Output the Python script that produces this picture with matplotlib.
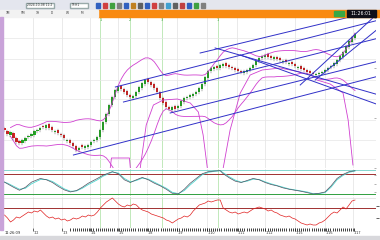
import matplotlib.pyplot as plt
import matplotlib.patches as mpatches
import numpy as np
import pandas as pd

W, H = 380, 240

# bar opens / closes (index 0..117)
opens = [40, 37, 33, 35, 30, 27, 25, 27, 31, 32, 33, 37, 38, 42, 40, 44, 41, 36, 38, 34,
         33, 27, 28, 25, 22, 18, 23, 20, 21, 23, 27, 28, 31, 38, 46, 54, 63, 71, 77, 82,
         79, 77, 73, 70, 72, 76, 80, 84, 89, 86, 84, 80, 76, 70, 66, 61, 58, 62, 60, 62,
         66, 70, 71, 72, 74, 76, 79, 84, 90, 97, 99, 102, 100, 102, 105, 103, 101, 100, 99, 97,
         95, 96, 98, 100, 103, 107, 110, 111, 114, 112, 109, 111, 110, 106, 108, 104, 106, 104, 100, 102,
         100, 98, 97, 95, 93, 94, 95, 96, 98, 101, 102, 104, 108, 111, 115, 121, 126, 130]
closes = [38, 34, 36, 30, 26, 25, 28, 30, 32, 34, 37, 38, 40, 41, 43, 40, 38, 37, 35, 33,
          30, 28, 25, 22, 18, 20, 21, 22, 23, 26, 28, 31, 38, 46, 54, 63, 71, 78, 81, 79,
          76, 73, 71, 72, 76, 81, 85, 88, 86, 83, 80, 76, 70, 65, 61, 59, 61, 59, 62, 67,
          70, 71, 73, 74, 76, 80, 84, 91, 97, 100, 101, 100, 103, 104, 102, 101, 100, 98, 97, 96,
          97, 98, 100, 103, 107, 110, 112, 113, 111, 110, 111, 109, 108, 107, 106, 105, 104, 102, 101, 99,
          98, 96, 95, 94, 94, 95, 96, 98, 100, 102, 105, 108, 112, 116, 122, 127, 131, 134]

# hand drawn cycle envelopes (bar index, price)
env_a_x = [45.3, 47.3, 49.7, 53.0, 57.7, 62.0, 64.7, 66.3, 67.7]
env_a_y = [0, 43, 63, 68, 69, 65, 56, 33, 0]
env_b_x = [73.0, 75.3, 78.7, 82.0, 86.0, 92.0, 98.7]
env_b_y = [0, 38, 75, 93, 98, 100, 96]
env_c_x = [104.3, 108.7, 113.0, 114.7, 116.3]
env_c_y = [88, 84, 75, 48, 3]
env_d_x = [35.3, 35.7, 41.7, 42.0]
env_d_y = [0, 10, 10, 0]

# trend lines: (x0, y0, x1, y1) in bar index / price
trend_lines = [
    (23.0, 13, 125.0, 92),
    (55.3, 55, 125.0, 107),
    (37.0, 81, 125.0, 148),
    (39.7, 66, 125.0, 130),
    (65.3, 115, 125.0, 158),
    (70.3, 120, 125.0, 73),
    (78.7, 113, 125.0, 63),
    (98.7, 83, 124.0, 153),
    (103.7, 88, 125.0, 140),
]

# stochastic %K / %D
stoch_x = [-1, 1, 3, 5, 7, 9, 12, 14, 16, 18, 20, 22, 24, 26, 28, 31, 33, 35, 36, 38,
           40, 42, 44, 46, 48, 50, 52, 54, 56, 58, 60, 62, 64, 66, 68, 70, 72, 73, 75, 77,
           79, 81, 83, 85, 87, 89, 91, 93, 95, 97, 99, 101, 103, 105, 107, 109, 111, 113, 115, 117]
stoch_k = [60, 50, 40, 31, 40, 55, 66, 62, 54, 42, 32, 26, 30, 40, 52, 66, 76, 83, 86, 80,
           62, 54, 62, 69, 62, 52, 44, 34, 22, 20, 34, 52, 66, 80, 86, 88, 89, 80, 68, 58,
           54, 60, 66, 62, 54, 48, 44, 38, 34, 31, 28, 24, 20, 22, 26, 44, 66, 78, 86, 89]
stoch_d = [58, 52, 43, 34, 37, 50, 63, 63, 57, 46, 35, 28, 29, 37, 48, 62, 73, 81, 85, 82,
           66, 56, 60, 67, 64, 55, 46, 37, 25, 21, 30, 47, 62, 77, 84, 87, 89, 83, 71, 61,
           55, 58, 64, 63, 56, 50, 45, 40, 35, 32, 29, 26, 21, 21, 24, 40, 62, 75, 84, 88]

# rsi, one value per bar
rsi = [56, 50, 42, 46, 52, 50, 54, 58, 62, 60,
       64, 62, 66, 60, 54, 50, 52, 48, 50, 46,
       48, 44, 46, 50, 48, 50, 54, 52, 56, 54,
       56, 62, 70, 76, 82, 86, 90, 84, 78, 74,
       72, 76, 74, 78, 76, 70, 66, 64, 62, 58,
       56, 54, 52, 50, 46, 44, 40, 44, 48, 50,
       54, 52, 56, 64, 70, 76, 78, 80, 84, 82,
       84, 86, 86, 70, 66, 62, 60, 62, 58, 60,
       62, 60, 64, 68, 70, 72, 70, 68, 64, 66,
       62, 60, 56, 54, 52, 54, 50, 48, 44, 40,
       38, 36, 38, 36, 36, 40, 42, 46, 52, 58,
       62, 60, 66, 72, 68, 76, 84, 86]

date_pos = [33, 62, 90, 118, 147, 177, 207, 237, 265, 295, 325, 353]
date_lbl = ["1/2", "1/3", "1/4", "1/5", "1/8", "1/9", "1/10", "1/11", "1/12", "1/15", "1/16", "1/17"]
green_marks = [100, 130, 162, 218]


def fx(px):
    return px / W


def fy(py):
    return 1 - py / H


def bar_x(px):
    return (px - 4) / 3.0


fig = plt.figure(figsize=(3.8, 2.4), dpi=100)
fig.patch.set_facecolor("white")

# toolbar, tab strip, clock
fig.add_artist(mpatches.Rectangle((0, fy(10)), 1, 10 / H, transform=fig.transFigure, color="#e4e6ee"))
fig.add_artist(mpatches.Rectangle((fx(98), fy(17)), fx(282), 7 / H, transform=fig.transFigure, color="#f98a10"))
fig.add_artist(mpatches.Rectangle((0, fy(17)), fx(98), 7 / H, transform=fig.transFigure, color="#f2f2f2"))
fig.add_artist(mpatches.Rectangle((fx(347), fy(17)), fx(29), 7 / H, transform=fig.transFigure, color="#101018"))
fig.add_artist(mpatches.Rectangle((fx(334), fy(16)), fx(10), 5 / H, transform=fig.transFigure, color="#39a845"))
fig.text(fx(361), fy(13.5), "11:26:01", color="white", fontsize=3.3, ha="center", va="center")
icon_cols = ["#3060c0", "#d04040", "#40a040", "#808080", "#3060c0", "#c08020", "#606060", "#3060c0",
             "#d04040", "#808080", "#40a0d0", "#606060", "#c04040", "#3060c0", "#40a040", "#808080"]
for k, c in enumerate(icon_cols):
    fig.add_artist(mpatches.Rectangle((fx(96 + k * 7), fy(8)), fx(4), 5 / H, transform=fig.transFigure, color=c))
fig.add_artist(mpatches.Rectangle((fx(26), fy(8)), fx(28), 5 / H, transform=fig.transFigure, color="white", ec="#9aa"))
fig.add_artist(mpatches.Rectangle((fx(70), fy(8)), fx(18), 5 / H, transform=fig.transFigure, color="white", ec="#9aa"))
fig.text(fx(27), fy(5.5), "2024-10-08 11:2", fontsize=2.2, va="center", color="#333")
fig.text(fx(71), fy(5.5), "TF:H1", fontsize=2.2, va="center", color="#333")
for k, t in enumerate(["1M", "5M", "1H", "D", "W", "M"]):
    fig.text(fx(6 + k * 15), fy(13.5), t, fontsize=2.2, va="center", color="#333")
fig.add_artist(mpatches.Rectangle((0, fy(230)), fx(2.5), 213 / H, transform=fig.transFigure, color="#c9a3d9"))
fig.add_artist(mpatches.Rectangle((0, 0), 1, 4 / H, transform=fig.transFigure, color="#d8d8dc"))

xl = (-0.667, 124)
ax = fig.add_axes([fx(2.5), fy(168), fx(373.5), 151 / H])
ax_st = fig.add_axes([fx(2.5), fy(196), fx(373.5), 27 / H])
ax_rs = fig.add_axes([fx(2.5), fy(228), fx(373.5), 31 / H])

for a in (ax, ax_st, ax_rs):
    a.set_xlim(*xl)
    for s in a.spines.values():
        s.set_visible(False)
    a.tick_params(left=False, labelleft=False, bottom=False, labelbottom=False,
                  right=True, direction="in", length=1.5, width=0.4, color="#777")
    for p in date_pos:
        a.axvline(bar_x(p), color="#e2e2e2", lw=0.5, zorder=0)
    for p in green_marks:
        a.axvline(bar_x(p), color="#a8e0a0", lw=0.5, zorder=0)

# main price panel
ax.set_ylim(0, 151)
for g in [130, 109, 88, 69, 48, 28, 9]:
    ax.axhline(g, color="#e6e6e6", lw=0.5, zorder=0)
for k, p in enumerate(green_marks):
    ax.text(bar_x(p), 148, str([1, 2, 3, 1][k]), fontsize=2.5, color="#40a040", ha="center", va="center")

s = pd.Series(closes, dtype=float)
mid = s.rolling(20, min_periods=3).mean()
sd = s.rolling(20, min_periods=3).std()
idx = np.arange(len(closes))
ax.plot(idx, mid + 2.2 * sd, color="#d040d0", lw=0.6)
ax.plot(idx, mid - 2.2 * sd, color="#d040d0", lw=0.6)
for ex, ey in [(env_a_x, env_a_y), (env_b_x, env_b_y), (env_c_x, env_c_y), (env_d_x, env_d_y)]:
    ax.plot(ex, ey, color="#d040d0", lw=0.6)

for i, (o, c) in enumerate(zip(opens, closes)):
    col = "#20b020" if c >= o else "#e02020"
    lo, hi = min(o, c), max(o, c)
    ax.plot([i, i], [lo - 1.5, hi + 1.5], color="#404040", lw=0.3)
    ax.add_patch(mpatches.Rectangle((i - 0.35, lo), 0.7, max(hi - lo, 0.6), color=col, lw=0))

for x0, y0, x1, y1 in trend_lines:
    ax.plot([x0, x1], [y0, y1], color="#3030c8", lw=0.7)

# stochastic panel
ax_st.set_ylim(14, 94)
ax_st.axhline(91, color="#70d0c8", lw=0.6)
ax_st.axhline(80, color="#a03030", lw=0.7)
ax_st.axhline(20, color="#30a040", lw=0.7)
ax_st.plot(stoch_x, stoch_d, color="#50d8d0", lw=0.6)
ax_st.plot(stoch_x, stoch_k, color="#505060", lw=0.5)

# rsi panel
ax_rs.set_ylim(30, 92)
ax_rs.axhline(91, color="#dddddd", lw=0.5)
ax_rs.axhline(70, color="#a03030", lw=0.7)
ax_rs.plot(idx, rsi, color="#e02020", lw=0.5)
ax_rs.axhline(30.3, color="#888", lw=0.5)
ax_rs.set_xticks([bar_x(p) for p in date_pos])
ax_rs.set_xticks(np.arange(22, 117, 0.7), minor=True)
ax_rs.tick_params(which="major", bottom=True, length=2.5, width=0.5, direction="out", color="#222")
ax_rs.tick_params(which="minor", bottom=True, length=2.0, width=0.6, direction="out", color="#222")
for p, t in zip(date_pos, date_lbl):
    fig.text(fx(p + 1), fy(233.5), t, fontsize=2.4, color="#333", ha="left", va="center")
fig.text(fx(5), fy(233.5), "11:26:09", fontsize=2.6, color="#222", ha="left", va="center")

fig.savefig("out.png", dpi=100)
